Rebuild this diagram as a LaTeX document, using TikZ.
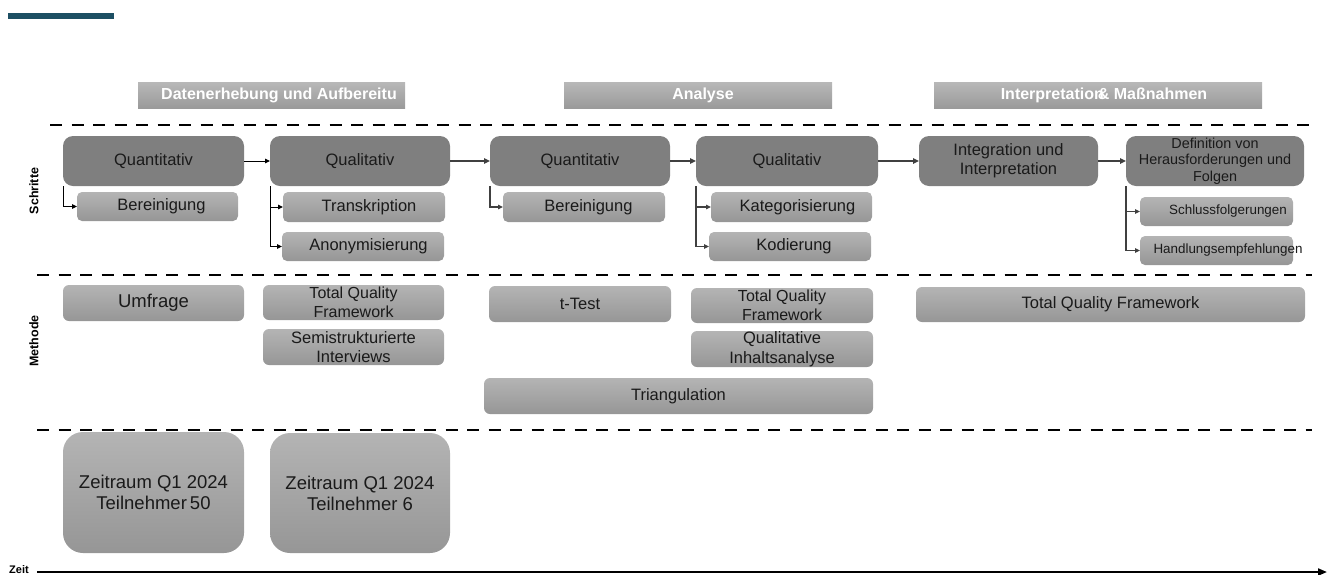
\documentclass[tikz,border=0pt]{standalone}
\usepackage{fontspec}
\setmainfont{Liberation Sans}
\usetikzlibrary{arrows.meta}
\definecolor{stepgray}{HTML}{7F7F7F}
\definecolor{lighttop}{HTML}{B4B4B4}
\definecolor{lightbot}{HTML}{969696}
\definecolor{headtop}{HTML}{B8B8B8}
\definecolor{headbot}{HTML}{9A9A9A}
\definecolor{txtcol}{HTML}{1A1A1A}
\definecolor{barteal}{HTML}{1D4F63}
\definecolor{arrgray}{HTML}{404040}
\newcommand{\txtshift}[2]{\makebox[0pt]{\hspace{#1}#2}}
\begin{document}
\begin{tikzpicture}[x=1pt,y=-1pt,
  basebox/.style={inner sep=0pt, outer sep=0pt, align=center, text=txtcol},
  stepbox/.style={basebox, rounded corners=10pt, fill=stepgray, font=\fontsize{16.5}{19}\selectfont},
  subbox/.style={basebox, rounded corners=5pt, top color=lighttop, bottom color=lightbot, font=\fontsize{16.5}{19}\selectfont},
  methbox/.style={basebox, rounded corners=6pt, top color=lighttop, bottom color=lightbot, font=\fontsize{16.5}{19.5}\selectfont},
  timebox/.style={basebox, rounded corners=20pt, top color=lighttop, bottom color=lightbot, font=\fontsize{18.5}{21}\selectfont},
  headbox/.style={basebox, top color=headtop, bottom color=headbot, text=white, font=\bfseries\fontsize{16}{19}\selectfont},
  rowlabel/.style={inner sep=0pt, rotate=90, font=\bfseries\fontsize{12.5}{14}\selectfont, text=black},
  flow/.style={-{Triangle[length=6pt,width=5.5pt]}, line width=2.2pt, draw=arrgray},
  thinflow/.style={-{Triangle[length=5pt,width=4.5pt]}, line width=1pt, draw=black},
  elbow/.style={-{Triangle[length=5pt,width=4.5pt]}, line width=1.4pt, draw=arrgray},
  thinelbow/.style={-{Triangle[length=5pt,width=4.5pt]}, line width=1pt, draw=black},
  sepline/.style={dash pattern=on 12pt off 9.5pt, line width=2.5pt, draw=black},
  axisline/.style={-{Triangle[length=9pt,width=7pt]}, line width=2pt, draw=black}
]
\useasboundingbox (0,0) rectangle (1329,574);

% top bar
\fill[barteal] (8,13) rectangle (114,19);

% phase headers
\node[headbox, minimum width=267pt, minimum height=26pt] (h1) at (271.5,95) {\txtshift{15pt}{Datenerhebung und Aufbereitu}};
\node[headbox, minimum width=268pt, minimum height=26pt] (h2) at (698,95) {\txtshift{10pt}{Analyse}};
\node[headbox, minimum width=328pt, minimum height=26pt] (h3) at (1098,95) {\txtshift{12pt}{Interpretation\kern-6pt\& Maßnahmen}};

% separators
\coordinate (s1a) at (50,125);  \coordinate (s1b) at (1312,125);
\coordinate (s2a) at (37,275);  \coordinate (s2b) at (1312,275);
\coordinate (s3a) at (37,430);  \coordinate (s3b) at (1312,430);
\draw[sepline] (s1a) -- (s1b);
\draw[sepline] (s2a) -- (s2b);
\draw[sepline] (s3a) -- (s3b);

% row labels
\node[rowlabel] (schritte) at (34,191) {Schritte};
\node[rowlabel] (methode) at (34,341) {Methode};

% steps
\node[stepbox, minimum width=181pt, minimum height=50pt] (q1) at (153.5,161) {Quantitativ};
\node[stepbox, minimum width=180pt, minimum height=50pt] (l1) at (360,161) {Qualitativ};
\node[stepbox, minimum width=180pt, minimum height=50pt] (q2) at (580,161) {Quantitativ};
\node[stepbox, minimum width=182pt, minimum height=50pt] (l2) at (787,161) {Qualitativ};
\node[stepbox, minimum width=179pt, minimum height=50pt] (int) at (1008.5,161) {Integration und\\Interpretation};
\node[stepbox, minimum width=178pt, minimum height=50pt, font=\fontsize{14.4}{16.5}\selectfont] (def) at (1215,161) {Definition von\\Herausforderungen und\\Folgen};

% sub steps
\node[subbox, minimum width=161pt, minimum height=29pt] (b1) at (157.5,206.5) {\txtshift{8pt}{Bereinigung}};
\node[subbox, minimum width=162pt, minimum height=30pt] (tr) at (364,207) {\txtshift{10pt}{Transkription}};
\node[subbox, minimum width=162pt, minimum height=29pt] (an) at (363,246.5) {\txtshift{11pt}{Anonymisierung}};
\node[subbox, minimum width=162pt, minimum height=30pt] (b2) at (584,207) {\txtshift{9pt}{Bereinigung}};
\node[subbox, minimum width=161pt, minimum height=30pt] (ka) at (791.5,207) {\txtshift{12pt}{Kategorisierung}};
\node[subbox, minimum width=162pt, minimum height=29pt] (ko) at (790,246.5) {\txtshift{8pt}{Kodierung}};
\node[subbox, minimum width=153pt, minimum height=29pt, font=\fontsize{13.4}{16}\selectfont] (sc) at (1216.5,211.5) {\txtshift{23pt}{Schlussfolgerungen}};
\node[subbox, minimum width=153pt, minimum height=29pt, font=\fontsize{13.4}{16}\selectfont] (ha) at (1216.5,250.5) {\txtshift{23pt}{Handlungsempfehlungen}};

% step connectors
\draw[thinflow] (q1) -- (l1);
\draw[flow] (l1) -- (q2);
\draw[flow] (q2) -- (l2);
\draw[flow] (l2) -- (int);
\draw[flow] (int) -- (def);

\draw[thinelbow] (q1.south west) |- (b1.west);
\draw[thinelbow] (l1.south west) |- (tr.west);
\draw[thinelbow] (l1.south west) |- (an.west);
\draw[elbow] (q2.south west) |- (b2.west);
\draw[elbow] (l2.south west) |- (ka.west);
\draw[elbow] (l2.south west) |- (ko.west);
\draw[elbow] (def.south west) |- (sc.west);
\draw[elbow] (def.south west) |- (ha.west);

% methods
\node[methbox, minimum width=181pt, minimum height=36pt, font=\fontsize{18.5}{21}\selectfont] (um) at (153.5,303) {Umfrage};
\node[methbox, minimum width=181pt, minimum height=35pt, font=\fontsize{16}{19}\selectfont] (tq1) at (353.5,302.5) {Total Quality\\Framework};
\node[methbox, minimum width=181pt, minimum height=36pt] (se) at (353.5,347) {Semistrukturierte\\Interviews};
\node[methbox, minimum width=182pt, minimum height=36pt] (tt) at (580,304) {t-Test};
\node[methbox, minimum width=182pt, minimum height=35pt, font=\fontsize{16}{19}\selectfont] (tq2) at (782,305.5) {Total Quality\\Framework};
\node[methbox, minimum width=182pt, minimum height=36pt] (qi) at (782,349) {Qualitative\\Inhaltsanalyse};
\node[methbox, minimum width=389pt, minimum height=36pt] (tri) at (678.5,396) {Triangulation};
\node[methbox, minimum width=389pt, minimum height=35pt] (tq3) at (1110.5,304.5) {Total Quality Framework};

% time boxes
\node[timebox, minimum width=181pt, minimum height=121pt] (zt1) at (153.5,492.5) {Zeitraum Q1 2024\\Teilnehmer\,50};
\node[timebox, minimum width=180pt, minimum height=120pt] (zt2) at (360,493) {Zeitraum Q1 2024\\Teilnehmer 6};

% time axis
\node[inner sep=0pt, anchor=base west, font=\bfseries\fontsize{11}{13}\selectfont] (zeit) at (9,573) {Zeit};
\coordinate (t0) at (37,572);
\coordinate (t1) at (1327,572);
\draw[axisline] (t0) -- (t1);
\end{tikzpicture}
\end{document}
